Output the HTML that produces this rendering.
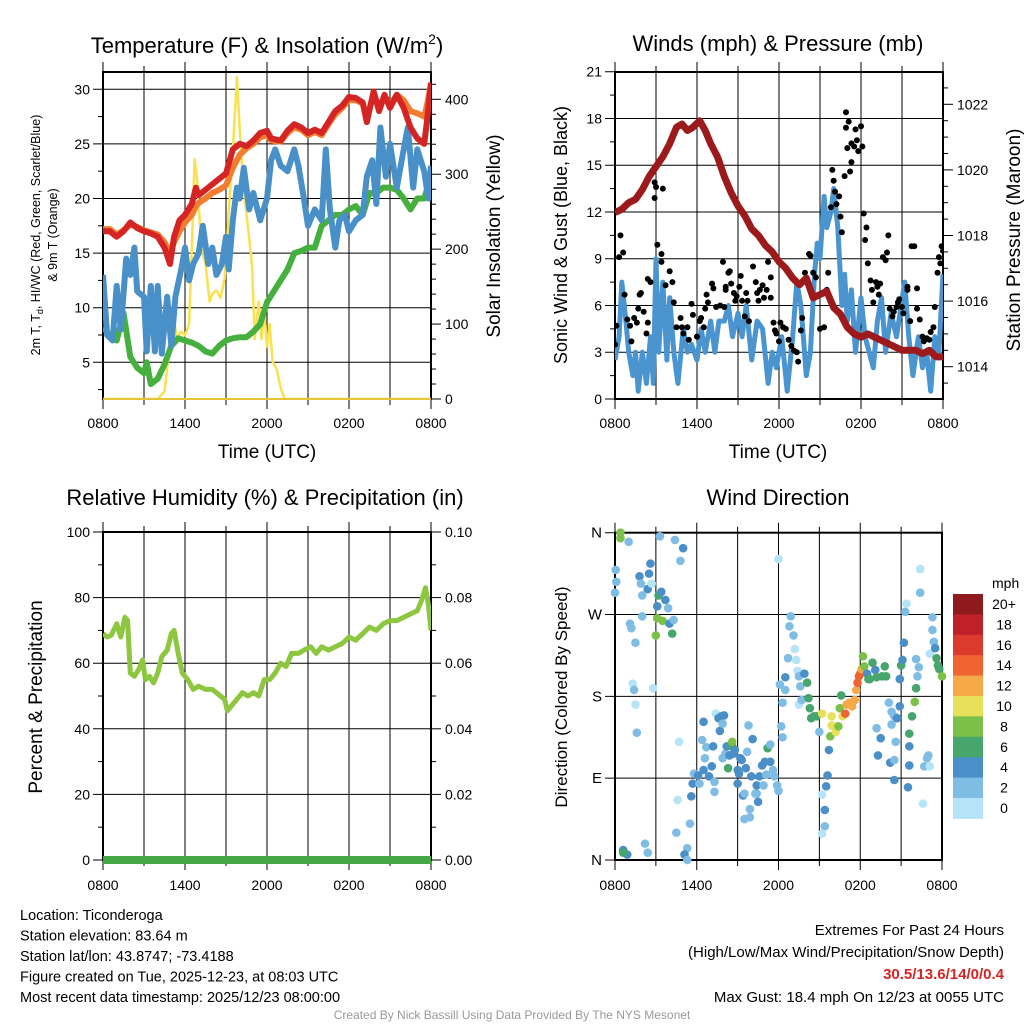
<!DOCTYPE html>
<html><head><meta charset="utf-8"><style>
html,body{margin:0;padding:0;background:#fff;}
svg{display:block;font-family:"Liberation Sans",Arial,sans-serif;}
</style></head><body>
<svg id="chart" width="1024" height="1024" viewBox="0 0 1024 1024" xmlns="http://www.w3.org/2000/svg"></svg>
<script>
// ---------- DATA ----------
const timeTicks = ["0800","1400","2000","0200","0800"];
const tempHours = [0,0.5,1,1.5,2,2.5,3,3.5,4,4.5,4.9,5.2,5.6,6,6.5,6.8,7,7.5,8,8.5,9,9.5,10,10.5,11,11.5,12,12.3,13,13.5,14,14.5,15,15.5,16,16.5,17,17.5,18,18.5,19,19.3,19.8,20.2,20.6,21,21.5,22,22.5,23,23.5,23.7,24];
const tempRed = [17,17,16.5,17,17.8,17.3,17,16.8,16.5,15.5,14,16.5,18,18.5,19.5,21,20.3,20.8,21.3,21.8,22.3,24.5,25,24.8,25.3,26,26.2,25.5,25.3,26.2,26.8,26.5,26,26.3,26,27,28,28.5,29.3,29.2,28.8,27,29.8,28,29.5,28.3,29.5,28.3,26.5,25.5,25,27,30.6];
const tempOrange = [17.2,17.2,16.7,17.1,17.6,17.4,17.1,16.9,16.7,16,15,16,17,17.8,18.5,19.3,19.6,20,20.5,20.8,21.2,22.8,24,24.6,25,25.6,25.8,25.3,25.2,26,26.5,26.3,25.8,26.1,25.8,26.8,27.7,28.3,29,29,28.7,27.4,29.5,28.4,29.4,28.6,29.5,29,28,27.8,27.5,28.5,30.5];
const chillHours = [0,0.3,0.7,1,1.3,1.7,2,2.3,2.5,3,3.2,3.5,3.8,4,4.3,4.7,5,5.3,5.8,6,6.3,6.6,7,7.3,7.7,8,8.3,8.7,9,9.2,9.5,9.8,10,10.3,10.7,11,11.5,12,12.3,12.6,13,13.5,14,14.3,14.7,15,15.5,16,16.3,16.6,17,17.3,17.7,18,18.5,19,19.3,19.7,20,20.3,20.7,21,21.5,22,22.3,22.7,23,23.5,23.8,24];
const chillBlue = [13,7.5,7,12,8,14.5,13,15.5,11.5,11,6,12,6,12,5.8,11,6.5,11,14,15.5,12.5,14,15,17.5,14,15.5,13,14,16.5,13.5,18,21,20,22.8,19,20.5,18,20,23.5,24.5,23,22.5,24.5,23,20,17.5,19,18,24.5,19,15.5,18,18.5,17,18,18.5,22,23.5,19.5,26.5,22,25,21,24.5,26.5,21,24.5,22.5,20,23];
const dewHours = [0,0.5,1,1.5,2,2.5,3,3.2,3.5,4,4.5,5,5.5,6,6.5,7,7.5,8,8.5,9,9.5,10,10.5,11,11.5,12,12.5,13,13.5,14,14.5,15,15.5,16,16.5,17,17.5,18,18.5,19,19.5,20,20.5,21,21.5,22,22.5,23,23.5,24];
const dewGreen = [8.2,7.5,7,9.5,5.5,4.5,4,5,3,3.5,4.8,6.5,7.2,7,6.8,6.5,6,5.8,6.5,7,7.2,7.3,7.3,7.8,8.5,10.5,11.5,12.5,13.5,15,15.2,15.5,15.5,17.5,18,18.5,18.5,19,19.3,18.5,20.5,20.5,21,21,20.8,20,19,20,20,22];
const solarHours = [0,4,4.5,5,5.1,5.4,5.7,6,6.3,6.5,6.7,6.9,7.2,7.5,7.8,8,8.3,8.6,8.9,9.2,9.5,9.8,10,10.3,10.6,10.9,11.1,11.4,11.6,11.8,12,12.2,12.4,12.7,13,13.3,24];
const solarYellow = [0,0,10,90,120,80,90,85,100,200,320,290,200,180,130,140,145,135,160,250,330,430,360,280,230,180,80,130,80,120,70,100,50,40,15,0,0];
const tempTicks = [5,10,15,20,25,30];
const solarTicks = [0,100,200,300,400];

const windHours = [0,0.3,0.5,0.8,1,1.3,1.5,1.7,2,2.3,2.6,2.8,3,3.2,3.5,3.8,4,4.3,4.6,5,5.3,5.6,6,6.3,6.6,7,7.3,7.6,8,8.3,8.6,9,9.3,9.6,10,10.4,10.8,11.2,11.5,11.8,12.2,12.6,13,13.3,13.6,14,14.3,14.6,14.8,15,15.3,15.5,15.8,16,16.3,16.6,16.8,17,17.3,17.6,18,18.3,18.6,18.9,19.2,19.5,19.8,20.2,20.6,21.2,21.5,21.8,22.2,22.5,22.8,23.1,23.4,23.7,24];
const windBlue = [2.5,4,7.5,5,3,1.5,3,0.5,3,1,4,1,9,3,7.5,2.5,6.5,3,1,4.5,3,3.5,2.5,4.5,3,5,3,5,5,6,4,5.5,4,6,2.5,5,4.5,1,3,2,4,0.5,4,7.5,6,1.5,3,8,10,9,13,11,12,13.5,11,6,8,5,7,3,6.5,4,3,2,5,6.5,3,5.5,4,7.5,4,1.5,4,2,3,0.5,4,3,8];
const gustHours = [
 0,0.1,0.4,0.3,0.6,0.7,0.9,1.1,1.2,1.4,
 1.6,1.7,1.8,1.9,2.1,2.3,2.4,2.4,2.6,2.9,
 3.0,2.9,3.1,3.4,3.4,3.5,3.7,4.0,4.2,4.3,
 4.5,4.8,4.9,5.0,5.3,5.4,5.6,5.7,6.0,6.2,
 6.3,6.5,6.6,6.7,6.8,7.1,7.2,7.4,7.7,7.9,
 8.0,8.1,8.1,8.3,8.4,8.5,8.7,8.8,8.9,9.1,
 9.2,9.3,9.5,9.6,9.7,9.8,10.1,10.3,10.4,10.5,
 10.6,10.8,10.9,11.1,11.2,11.4,11.4,11.6,11.7,11.8,
 12.0,12.1,12.3,12.5,12.7,12.9,13.1,13.3,13.4,13.6,
 13.7,13.9,14.2,14.3,14.5,14.7,15.0,15.3,15.5,15.6,
 15.8,15.9,16.0,16.1,16.2,16.4,16.5,16.6,16.8,16.9,
 16.9,17.0,17.1,17.2,17.3,17.3,17.5,17.6,17.7,17.8,
 18.0,18.1,18.2,18.3,18.4,18.5,18.7,18.8,18.9,19.1,
 19.2,19.3,19.4,19.6,19.8,19.9,20.0,20.1,20.3,20.4,
 20.6,20.7,20.8,21.0,21.1,21.4,21.4,21.6,21.7,21.9,
 22.1,22.1,22.3,22.5,22.6,22.8,23.0,23.1,23.3,23.4,
 23.6,23.7,23.8,23.9,24.0];
const gustBlack = [
 3.5,4.7,10.5,9.1,9.4,6.7,5.1,4.7,3.7,5.2,
 4.9,5.8,6.7,6.8,5.6,4.2,4.9,7.7,7.5,13.9,
 13.6,12.9,9.9,9.3,8.8,13.5,7.3,8.2,7.5,6.2,
 4.6,5.2,4.6,4.2,4.6,3.8,6.1,5.4,4.0,5.0,
 5.2,4.6,5.8,6.7,6.2,7.4,7.1,5.9,6.0,8.8,
 5.9,7.2,7.0,8.1,8.2,7.4,6.8,6.3,6.6,7.2,
 7.9,6.3,5.3,6.8,6.3,5.0,8.5,7.5,6.8,6.3,
 7.0,7.3,6.5,7.0,8.8,7.8,6.5,4.9,4.4,4.2,
 3.7,4.9,4.6,4.5,3.8,3.4,3.1,3.0,2.4,4.4,
 5.2,8.1,9.3,9.2,8.1,7.8,4.5,4.6,7.0,8.1,
 12.3,14.7,14.0,13.3,12.5,13.0,11.7,10.7,14.3,18.4,
 17.4,16.1,17.8,14.6,15.2,16.4,16.2,17.3,16.6,15.9,
 17.5,16.2,11.9,10.2,11.0,8.7,7.6,7.0,6.2,7.5,
 7.2,6.7,7.4,9.1,8.9,9.4,10.5,5.8,5.3,5.6,
 5.9,6.2,6.4,5.9,5.5,7.2,7.0,5.0,9.8,9.8,
 7.1,5.8,5.1,4.0,3.7,3.9,3.8,4.3,4.6,5.9,
 8.1,9.1,8.7,9.8,9.5];
const presHours = [0,0.5,1,1.5,2,2.5,3,3.5,4,4.5,4.9,5.3,5.7,6.2,6.6,7,7.5,8,8.5,9,9.5,10,10.5,11,11.5,12,12.5,13,13.5,14,14.5,15,15.5,16,16.5,17,17.5,18,18.5,19,19.5,20,20.5,21,22,22.5,23,23.5,24];
const presMaroon = [1018.7,1018.8,1019,1019.1,1019.4,1019.8,1020.1,1020.4,1020.8,1021.3,1021.4,1021.2,1021.3,1021.5,1021.2,1020.8,1020.4,1019.8,1019.3,1018.9,1018.6,1018.2,1018,1017.7,1017.5,1017.2,1017,1016.7,1016.5,1016.7,1016.1,1016.2,1016.3,1015.8,1015.6,1015.2,1015,1014.9,1015,1014.9,1014.8,1014.7,1014.6,1014.5,1014.5,1014.4,1014.5,1014.3,1014.3];
const windTicks = [0,3,6,9,12,15,18,21];
const presTicks = [1014,1016,1018,1020,1022];

const rhHours = [0,0.3,0.6,1,1.3,1.6,1.8,2,2.3,2.6,2.9,3.1,3.4,3.7,4,4.3,4.7,5,5.2,5.5,5.8,6.2,6.6,7,7.5,8,8.3,8.6,8.9,9.1,9.4,9.8,10.2,10.6,11,11.4,11.8,12.2,12.6,13,13.4,13.8,14.3,14.7,15.2,15.6,16,16.5,17,17.5,18,18.5,19,19.5,20,20.5,21,21.5,22,22.5,23,23.3,23.6,23.8,24];
const rhValues = [69,68,68.5,72,68,74,73,57,56,58,61,55,56,54,57,62,64,69,70,63,57,55,52,53,52,52,51,50,49,45.5,47,49,51,50,51,50,55,55,57,60,59,63,63,64,65,63,65,64,65,66,68,67,69,71,70,72,73,73,74,75,76,79,83,78,70];
const precipHours = [0,24];
const precipValues = [0,0];
const rhTicks = [0,20,40,60,80,100];
const precipTicks = ["0.00","0.02","0.04","0.06","0.08","0.10"];

const dirHours = [
 0.4,0.4,1.0,0.05,0.1,0,1.8,2.6,2.5,2.4,
 2.0,1.9,2.7,3.2,3.4,3.7,3.9,3.1,3.1,3.5,
 3.0,4.0,4.2,4.3,2.0,1.1,1.2,1.5,1.3,1.4,
 1.5,1.6,2.8,3.3,4.4,5.0,4.8,4.7,0.6,0.9,
 0.6,2.2,2.4,4.5,4.6,5.3,5.1,5.3,5.5,5.6,
 5.7,5.8,6.2,6.1,6.5,6.7,6.5,6.4,6.6,6.9,
 7.1,7.3,7.3,7.2,7.4,7.6,7.8,8.0,7.7,7.9,
 7.9,8.1,8.2,8.3,8.4,8.6,8.6,8.7,8.8,9.2,
 9.3,9.0,9.1,9.0,9.4,9.5,9.6,9.8,10.1,10.0,
 9.7,10.3,10.4,9.5,9.9,9.9,10.5,10.6,10.4,10.8,
 11.0,10.9,11.1,11.2,11.4,11.4,11.6,11.7,11.9,12.0,
 12.0,12.1,12.3,12.2,12.3,12.5,12.5,12.7,12.8,12.9,
 13.1,13.2,13.3,13.4,13.5,13.6,13.5,13.7,13.9,14.1,
 14.2,14.3,14.4,14.6,14.8,15.0,15.2,15.7,15.6,15.5,
 15.4,15.4,15.2,15.2,15.8,15.9,15.9,16.2,16.4,16.5,
 16.6,16.7,16.9,17.0,17.2,17.4,17.6,17.7,17.8,17.9,
 18.0,18.1,18.2,18.3,18.5,18.6,18.7,18.9,19.1,19.2,
 19.6,19.8,19.9,19.2,19.5,19.3,20.1,20.3,20.5,20.3,
 20.2,20.5,20.5,20.6,20.7,20.9,20.9,21.0,21.1,21.2,
 21.3,21.4,21.6,21.6,21.6,21.5,21.8,22.0,22.1,22.2,
 22.3,22.1,22.4,22.4,22.6,22.7,22.9,23.0,23.1,23.1,
 23.3,23.3,23.4,23.5,23.6,23.7,23.8,24.0];
const dirDegrees = [
 360,354,350,319,306,294,312,326,315,298,
 291,304,304,291,295,286,277,279,266,263,
 247,260,249,264,268,260,255,239,194,187,
 171,140,189,356,352,343,329,130,11,6,
 8,18,8,30,66,13,6,0,40,70,
 84,95,84,93,99,124,152,132,112,92,
 103,86,75,125,161,156,158,159,142,150,
 112,117,125,101,115,125,130,117,121,112,
 110,99,95,84,71,73,101,148,133,92,
 119,73,73,45,47,56,64,92,82,104,
 108,82,94,123,127,108,99,92,82,76,
 331,193,173,147,135,187,201,222,257,268,
 247,232,220,208,202,191,171,176,205,195,
 178,167,156,158,158,141,161,121,93,81,
 55,37,29,72,136,158,148,141,147,167,
 181,158,161,171,173,169,176,187,195,202,
 205,210,224,213,205,199,199,217,209,201,
 202,213,202,145,134,115,173,163,158,149,
 107,110,88,130,156,169,199,214,220,239,
 273,282,139,125,104,80,158,174,189,202,
 212,221,294,320,62,103,112,115,103,227,
 267,253,240,233,222,214,210,202];
const dirSpeeds = [
 8,8,2,2,2,2,4,4,4,4,
 2,2,0,6,4,4,2,4,8,8,
 8,4,6,2,2,2,2,2,0,2,
 0,2,0,2,2,4,2,0,4,4,
 6,2,2,2,0,2,4,2,2,4,
 4,2,2,4,4,2,4,2,2,4,
 4,2,2,4,0,4,4,4,4,2,
 2,2,4,6,4,6,8,4,4,4,
 4,4,4,4,4,2,4,2,4,4,
 2,2,2,2,2,2,4,4,4,4,
 4,2,2,6,2,4,2,2,2,2,
 0,2,2,2,2,2,4,2,2,2,
 2,0,0,0,2,2,0,2,4,6,
 6,6,6,6,6,2,10,4,4,4,
 4,2,0,0,8,10,10,10,8,8,
 6,10,14,12,12,12,12,12,14,14,
 14,12,8,8,4,6,6,6,4,6,
 6,6,6,2,4,4,2,2,2,2,
 4,2,4,2,4,4,4,6,4,4,
 2,0,6,4,4,4,6,8,6,2,
 2,2,2,0,0,2,2,2,0,0,
 2,2,2,4,6,6,6,8];
const dirLabels = ["N","E","S","W","N"];
const speedBins = ["0","2","4","6","8","10","12","14","16","18","20+"];
const binColors = ["#b5e3f7","#7fbde4","#4a8fc7","#46a66c","#7cc04a","#e6e05a","#f7a848","#ef6430","#dd3a2e","#bf2029","#8f1a1d"];

// ---------- helpers ----------
const NS = "http://www.w3.org/2000/svg";
const svg = document.getElementById("chart");
function mk(tag, attrs, parent, txt){
  const e = document.createElementNS(NS, tag);
  for (const k in attrs) e.setAttribute(k, attrs[k]);
  if (txt !== undefined) e.textContent = txt;
  (parent || svg).appendChild(e);
  return e;
}
function lin(d0,d1,r0,r1){ return v => r0 + (v-d0)*(r1-r0)/(d1-d0); }
function pathFrom(xs, ys, sx, sy){
  let d = "";
  const n = Math.min(xs.length, ys.length);
  for (let i=0;i<n;i++) d += (i?"L":"M") + sx(xs[i]).toFixed(1) + "," + sy(ys[i]).toFixed(1);
  return d;
}

function frame(g, x0, x1, y0, y1, sx, leftTicks, sy, leftFmt, minorLeft){
  for (let h=0; h<=24; h+=3){
    const x = sx(h);
    const major = h%6===0;
    const gl = mk("line",{x1:x,y1:y0,x2:x,y2:y1,stroke:"#000","stroke-width":1},g);
    
    
    mk("line",{x1:x,y1:y1,x2:x,y2:y1+(major?10:6),stroke:"#000","stroke-width":1},g);
    mk("line",{x1:x,y1:y0,x2:x,y2:y0-(major?10:6),stroke:"#000","stroke-width":1},g);
  }
  leftTicks.forEach((v,i)=>{
    const y = sy(v);
    if (y>=y0-0.5 && y<=y1+0.5){
      const hl = mk("line",{x1:x0-10,y1:y,x2:x1,y2:y,stroke:"#000","stroke-width":1},g);
      
      
      const t = mk("text",{x:x0-13,y:y+5,"text-anchor":"end","font-size":14},g,leftFmt?leftFmt(v,i):String(v));
      
      
    }
  });
  (minorLeft||[]).forEach(v=>{ const y=sy(v); mk("line",{x1:x0-5,y1:y,x2:x0,y2:y,stroke:"#000"},g); });
  const r = mk("rect",{x:x0,y:y0,width:x1-x0,height:y1-y0,fill:"none",stroke:"#000","stroke-width":2},g);
  
  
}
function xLabels(g, sx, y){
  timeTicks.forEach((lab,i)=>{
    const t = mk("text",{x:sx(i*6),y:y,"text-anchor":"middle","font-size":14},g,lab);
    
    
  });
}
function rightTicks(g, x1, vals, sy, labs, minors){
  vals.forEach((v,i)=>{
    const y = sy(v);
    mk("line",{x1:x1,y1:y,x2:x1+10,y2:y,stroke:"#000"},g);
    const t = mk("text",{x:x1+14,y:y+5,"font-size":14},g,labs?labs[i]:String(v));
    
    
  });
  minors.forEach(v=>{ const y=sy(v); mk("line",{x1:x1,y1:y,x2:x1+5,y2:y,stroke:"#000"},g); });
}
function title(txt, x, y, name){
  const t = mk("text",{x:x,y:y,"text-anchor":"middle","font-size":22},svg,txt);
  
  
  return t;
}
function rotLabel(g, txt, x, y, size, name){
  const t = mk("text",{x:x,y:y,"text-anchor":"middle","font-size":size,transform:`rotate(-90 ${x} ${y})`},g,txt);
  
  
  return t;
}

// ---------- Panel 1: temperature ----------
const g1 = mk("g",{});


const sx1 = lin(0,24,103,431);
const sy1 = lin(5,30,362.3,89.3);
const sySol = lin(0,400,399,99.3);
const t1 = title("", 267, 53, "temperature-title");
t1.innerHTML = 'Temperature (F) &amp; Insolation (W/m<tspan font-size="14" dy="-9">2</tspan><tspan dy="9">)</tspan>';
frame(g1,103,431,72,399,sx1,tempTicks,sy1,null,[2.5,7.5,12.5,17.5,22.5,27.5]);
rightTicks(g1,431,solarTicks,sySol,null,[20,40,60,80,120,140,160,180,220,240,260,280,320,340,360,380,420]);
xLabels(g1,sx1,428);
const xt1 = mk("text",{x:267,y:458,"text-anchor":"middle","font-size":19},g1,"Time (UTC)");


const yl1 = mk("text",{x:40,y:235,"text-anchor":"middle","font-size":12.5,transform:"rotate(-90 40 235)"},g1);
yl1.innerHTML = '2m T, T<tspan font-size="9" dy="3">d</tspan><tspan dy="-3">, HI/WC (Red, Green, Scarlet/Blue)</tspan>';


rotLabel(g1,"& 9m T (Orange)",57,235,12.5,"y-axis-title-line2");
rotLabel(g1,"Solar Insolation (Yellow)",500,236,19,"right-axis-title");
const cp1 = mk("clipPath",{id:"c1"},g1); mk("rect",{x:103,y:72,width:328,height:327},cp1);
const pg1 = mk("g",{"clip-path":"url(#c1)"},g1);
const pY = mk("path",{d:pathFrom(solarHours,solarYellow,sx1,sySol),fill:"none",stroke:"#f9e14f","stroke-width":2.5,"stroke-linejoin":"round"},pg1);


const pGr = mk("path",{d:pathFrom(dewHours,dewGreen,sx1,sy1),fill:"none",stroke:"#45b03e","stroke-width":6,"stroke-linejoin":"round"},pg1);


const pB = mk("path",{d:pathFrom(chillHours,chillBlue,sx1,sy1),fill:"none",stroke:"#4a90c8","stroke-width":6,"stroke-linejoin":"round"},pg1);


const pO = mk("path",{d:pathFrom(tempHours,tempOrange,sx1,sy1),fill:"none",stroke:"#f47c30","stroke-width":6,"stroke-linejoin":"round"},pg1);


const pR = mk("path",{d:pathFrom(tempHours,tempRed,sx1,sy1),fill:"none",stroke:"#d42424","stroke-width":6,"stroke-linejoin":"round"},pg1);


mk("line",{x1:103,y1:399,x2:431,y2:399,stroke:"#e6c43a","stroke-width":2},g1);

// ---------- Panel 2: winds ----------
const g2 = mk("g",{});


const sx2 = lin(0,24,615,943);
const sy2 = lin(0,21,399,71.7);
const syP = lin(1014,1022,366.7,104.3);
title("Winds (mph) & Pressure (mb)",778,51,"winds-title");
frame(g2,615,943,72,399,sx2,windTicks,sy2,null,[1.5,4.5,7.5,10.5,13.5,16.5,19.5]);
rightTicks(g2,943,presTicks,syP,null,[1013.5,1014.5,1015,1015.5,1016.5,1017,1017.5,1018.5,1019,1019.5,1020.5,1021,1021.5,1022.5]);
xLabels(g2,sx2,428);
const xt2 = mk("text",{x:778,y:458,"text-anchor":"middle","font-size":19},g2,"Time (UTC)");


rotLabel(g2,"Sonic Wind & Gust (Blue, Black)",567,235,18,"y-axis-title");
rotLabel(g2,"Station Pressure (Maroon)",1020,240,19,"right-axis-title");
const cp2 = mk("clipPath",{id:"c2"},g2); mk("rect",{x:615,y:72,width:328,height:327},cp2);
const pg2 = mk("g",{"clip-path":"url(#c2)"},g2);
const pW = mk("path",{d:pathFrom(windHours,windBlue,sx2,sy2),fill:"none",stroke:"#4a94d0","stroke-width":5,"stroke-linejoin":"round"},pg2);


gustHours.forEach((h,i)=>{
  if (gustBlack[i] === undefined) return;
  const c = mk("circle",{cx:sx2(h),cy:sy2(gustBlack[i]),r:3,fill:"#000"},pg2);
  
  
});
const pP = mk("path",{d:pathFrom(presHours,presMaroon,sx2,syP),fill:"none",stroke:"#9c1a1c","stroke-width":7,"stroke-linejoin":"round"},pg2);



// ---------- Panel 3: RH ----------
const g3 = mk("g",{});


const sx3 = lin(0,24,103,431);
const sy3 = lin(0,100,860,532);
title("Relative Humidity (%) & Precipitation (in)",265,505,"humidity-title");
frame(g3,103,431,532,860,sx3,rhTicks,sy3,null,[10,30,50,70,90]);
rightTicks(g3,431,rhTicks,sy3,precipTicks,[10,30,50,70,90]);
xLabels(g3,sx3,890);
rotLabel(g3,"Percent & Precipitation",42,697,19,"y-axis-title");
const cp3 = mk("clipPath",{id:"c3"},g3); mk("rect",{x:103,y:532,width:328,height:332},cp3);
const pg3 = mk("g",{"clip-path":"url(#c3)"},g3);
const pRH = mk("path",{d:pathFrom(rhHours,rhValues,sx3,sy3),fill:"none",stroke:"#8dc63f","stroke-width":5,"stroke-linejoin":"round"},pg3);


const sP = lin(0,0.1,860,532);
const pPr = mk("path",{d:pathFrom(precipHours,precipValues,sx3,sP),fill:"none",stroke:"#45a845","stroke-width":8},pg3);



// ---------- Panel 4: wind direction ----------
const g4 = mk("g",{});


const sx4 = lin(0,24,615,942);
const sy4 = lin(0,360,860,532.7);
title("Wind Direction",778,505,"wind-direction-title");
frame(g4,615,942,532.7,860,sx4,[0,90,180,270,360],sy4,(v,i)=>dirLabels[i],[]);
g4.querySelectorAll("text").forEach(t=>t.setAttribute("font-size","15"));
xLabels(g4,sx4,890);
rotLabel(g4,"Direction (Colored By Speed)",567,697,17,"y-axis-title");
dirHours.forEach((h,i)=>{
  const s = dirSpeeds[i] === undefined ? 2 : dirSpeeds[i];
  const b = Math.max(0,Math.min(10,Math.round(s/2)));
  const c = mk("circle",{cx:sx4(h),cy:sy4(dirDegrees[i]),r:4.3,fill:binColors[b]},g4);
  
  
});
const cb = mk("g",{});


const cbTop = 594, cbH = 20.4;
const unit = mk("text",{x:992,y:588,"font-size":14},cb,"mph");


speedBins.forEach((lab,i)=>{
  const k = speedBins.length-1-i;
  const r = mk("rect",{x:953,y:cbTop+i*cbH,width:30,height:cbH+0.5,fill:binColors[k]},cb);
  
  
  const t = mk("text",{x:1004,y:cbTop+i*cbH+15,"text-anchor":"middle","font-size":14},cb,speedBins[k]);
  
  
});

// ---------- footer ----------
const info = ["Location: Ticonderoga","Station elevation: 83.64 m","Station lat/lon: 43.8747; -73.4188","Figure created on Tue, 2025-12-23, at 08:03 UTC","Most recent data timestamp: 2025/12/23 08:00:00"];
info.forEach((s,i)=>{
  const t = mk("text",{x:20,y:920+i*20.5,"font-size":14.5},svg,s);
  
  
});
const ex1 = mk("text",{x:1004,y:935,"text-anchor":"end","font-size":15},svg,"Extremes For Past 24 Hours");


const ex2 = mk("text",{x:1004,y:957,"text-anchor":"end","font-size":15},svg,"(High/Low/Max Wind/Precipitation/Snow Depth)");


const ex3 = mk("text",{x:1004,y:979,"text-anchor":"end","font-size":15,"font-weight":"bold",fill:"#d42424"},svg,"30.5/13.6/14/0/0.4");


const ex4 = mk("text",{x:1004,y:1002,"text-anchor":"end","font-size":15},svg,"Max Gust: 18.4 mph On 12/23 at 0055 UTC");


const cr = mk("text",{x:512,y:1019,"text-anchor":"middle","font-size":12,fill:"#999"},svg,"Created By Nick Bassill Using Data Provided By The NYS Mesonet");


</script>
</body></html>
